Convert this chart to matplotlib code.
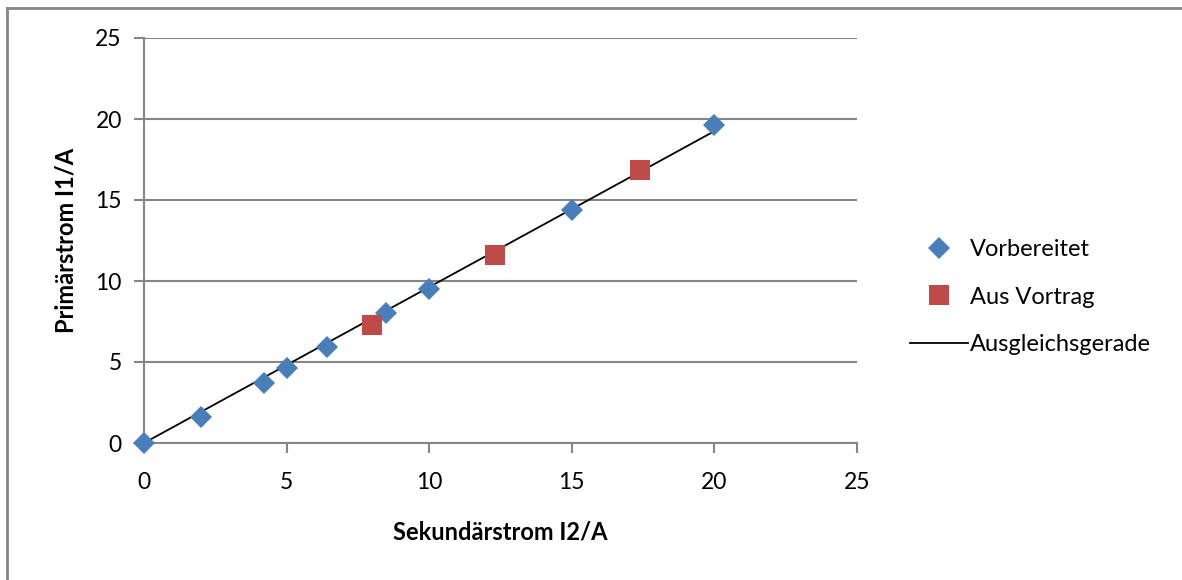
import matplotlib
matplotlib.use("Agg")
import matplotlib.pyplot as plt
from matplotlib.lines import Line2D

plt.rcParams['font.family'] = ['Lato', 'DejaVu Sans']

# data
vorb_x = [0, 2, 4.2, 5, 6.4, 8.5, 10, 15, 20]
vorb_y = [0, 1.6, 3.7, 4.65, 5.9, 8.05, 9.5, 14.4, 19.6]
vortrag_x = [8.0, 12.3, 17.4]
vortrag_y = [7.3, 11.6, 16.85]
fit_x = [0, 20]
fit_y = [0, 19.25]

fig = plt.figure(figsize=(11.82, 5.80), dpi=100)
ax = fig.add_axes([144/1182, 1 - 443/580, (857 - 144)/1182, (443 - 38)/580])

grid_col = "#868686"
ax.plot(fit_x, fit_y, "-", color="black", lw=1.3, label="Ausgleichsgerade", zorder=3)
ax.plot(vorb_x, vorb_y, "D", color="#4a7ebb", ms=11, mew=0, label="Vorbereitet",
        zorder=4, clip_on=False)
ax.plot(vortrag_x, vortrag_y, "s", color="#be4b48", ms=14, mew=0, label="Aus Vortrag",
        zorder=4, clip_on=False)

ax.set_xlim(0, 25)
ax.set_ylim(0, 25)
ax.set_xticks(range(0, 26, 5))
ax.set_yticks(range(0, 26, 5))
ax.yaxis.grid(True, color=grid_col, lw=1.5)
ax.set_axisbelow(True)
for s in ["top", "right"]:
    ax.spines[s].set_visible(False)
for s in ["left", "bottom"]:
    ax.spines[s].set_color(grid_col)
    ax.spines[s].set_linewidth(1.5)
ax.tick_params(colors=grid_col, labelcolor="black", labelsize=16.5, length=7, width=1.5)
ax.tick_params(axis="x", pad=14)
ax.tick_params(axis="y", pad=9)

ax.set_xlabel("Sekundärstrom I2/A", fontsize=17, fontweight="bold", labelpad=20)
ax.set_ylabel("Primärstrom I1/A", fontsize=17, fontweight="bold", labelpad=13)

h, l = ax.get_legend_handles_labels()
order = [1, 2, 0]
ax.legend([h[i] for i in order], [l[i] for i in order], loc="center left",
          bbox_to_anchor=(910/1182, 1 - 297/580), bbox_transform=fig.transFigure,
          frameon=False, fontsize=17, labelspacing=1.12, handlelength=2.45,
          handletextpad=0.1, borderaxespad=0, borderpad=0)

# outer chart border (left and top edges visible)
fig.add_artist(Line2D([7/1182, 7/1182], [0, 1 - 8/580], transform=fig.transFigure,
                      color=grid_col, lw=2))
fig.add_artist(Line2D([7/1182, 1], [1 - 8/580, 1 - 8/580], transform=fig.transFigure,
                      color=grid_col, lw=2))

fig.savefig("out.png", dpi=100)
